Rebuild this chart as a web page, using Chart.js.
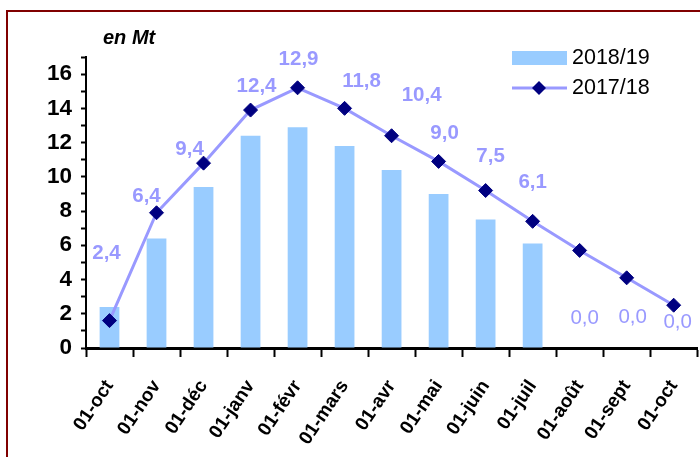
<!DOCTYPE html>
<html>
<head>
<meta charset="utf-8">
<script src="https://cdn.jsdelivr.net/npm/chart.js@4"></script>
<style>
    body { margin: 0; background: #fff; overflow: hidden; width: 700px; height: 457px; }
    #frame { position: absolute; left: 6px; top: 10px; width: 800px; height: 600px; border: 2px solid #800000; }
    #wrap { position: absolute; left: 0; top: 0; width: 712px; height: 457px; }
</style>
</head>
<body>
<div id="frame"></div>
<div id="wrap"><canvas id="stockChart"></canvas></div>
<script>
    // Months (x axis)
    const months = ['01-oct', '01-nov', '01-déc', '01-janv', '01-févr', '01-mars', '01-avr',
                    '01-mai', '01-juin', '01-juil', '01-août', '01-sept', '01-oct'];
    // 2018/19 stock, bars (en Mt)
    const stock1819 = [2.4, 6.4, 9.4, 12.4, 12.9, 11.8, 10.4, 9.0, 7.5, 6.1, 0, 0, 0];
    // 2017/18 stock, line
    const stock1718 = [1.6, 7.9, 10.8, 13.9, 15.2, 14.0, 12.4, 10.9, 9.2, 7.4, 5.7, 4.1, 2.5];
    const yMax = 17;

    const FONT = '"Liberation Sans", Arial, sans-serif';
    const fmt = v => v.toFixed(1).replace('.', ',');

    // Value labels for the bars, placed like in the original sheet
    const valueLabels = {
        id: 'valueLabels',
        afterDatasetsDraw(chart, args, opts) {
            const ctx = chart.ctx;
            const x = chart.scales.x, y = chart.scales.y;
            ctx.save();
            ctx.fillStyle = '#9999FF';
            ctx.textAlign = 'center';
            ctx.textBaseline = 'middle';
            stock1819.forEach((v, i) => {
                const off = opts.offsets[i];
                ctx.font = (v === 0 ? '' : 'bold ') + '20.5px ' + FONT;
                ctx.fillText(fmt(v), x.getPixelForValue(i) + off[0], y.getPixelForValue(v) + off[1]);
            });
            ctx.restore();
        }
    };

    // Legend and unit text
    const sheetDecor = {
        id: 'sheetDecor',
        afterDraw(chart) {
            const ctx = chart.ctx;
            const ds = chart.data.datasets;
            ctx.save();
            ctx.fillStyle = '#000';
            ctx.font = 'italic bold 20px ' + FONT;
            ctx.textBaseline = 'middle';
            ctx.fillText('en Mt', 103, 38);

            // bar entry
            ctx.fillStyle = ds[0].backgroundColor;
            ctx.fillRect(512, 51, 55, 14);
            // line entry
            ctx.strokeStyle = ds[1].borderColor;
            ctx.lineWidth = 3;
            ctx.beginPath();
            ctx.moveTo(512, 88);
            ctx.lineTo(567, 88);
            ctx.stroke();
            ctx.fillStyle = ds[1].pointBackgroundColor;
            ctx.beginPath();
            ctx.moveTo(539, 81); ctx.lineTo(546, 88); ctx.lineTo(539, 95); ctx.lineTo(532, 88);
            ctx.closePath();
            ctx.fill();

            ctx.fillStyle = '#000';
            ctx.font = '21.5px ' + FONT;
            ctx.fillText(ds[0].label, 572, 58);
            ctx.fillText(ds[1].label, 572, 88);
            ctx.restore();
        }
    };

    const ctx = document.getElementById('stockChart').getContext('2d');
    new Chart(ctx, {
        type: 'bar',
        data: {
            labels: months,
            datasets: [{
                type: 'bar',
                label: '2018/19',
                data: stock1819,
                backgroundColor: '#99CCFF',
                barPercentage: 0.42,
                categoryPercentage: 1,
                order: 2
            }, {
                type: 'line',
                label: '2017/18',
                data: stock1718,
                borderColor: '#9999FF',
                borderWidth: 3,
                tension: 0,
                pointStyle: 'rectRot',
                pointRadius: 7,
                pointBackgroundColor: '#000080',
                pointBorderColor: '#000080',
                pointBorderWidth: 1,
                order: 1
            }]
        },
        options: {
            responsive: true,
            maintainAspectRatio: false,
            animation: false,
            layout: { padding: { top: 57, right: 11, bottom: 0, left: 0 } },
            plugins: {
                legend: { display: false },
                tooltip: { enabled: false },
                valueLabels: {
                    offsets: [[-3, -54], [-10, -42], [-14, -38], [6, -49], [1, -68], [17, -65], [30, -75],
                              [6, -61], [5, -63], [0, -61], [5, -30], [6, -31], [4, -26]]
                }
            },
            scales: {
                x: {
                    offset: true,
                    grid: { offset: true, drawOnChartArea: false, drawTicks: true, tickLength: 9, tickWidth: 2, color: '#000' },
                    border: { color: '#000', width: 3 },
                    ticks: {
                        color: '#000',
                        font: { family: FONT, size: 19, weight: 'bold' },
                        minRotation: 56,
                        maxRotation: 56,
                        autoSkip: false,
                        padding: 19
                    },
                    afterFit: s => { s.height = 109; }
                },
                y: {
                    min: 0,
                    max: yMax,
                    grid: { drawOnChartArea: false, drawTicks: true, tickLength: 5, tickWidth: 2, color: '#000' },
                    border: { color: '#000', width: 2 },
                    ticks: {
                        stepSize: 1,
                        autoSkip: false,
                        color: '#000',
                        padding: 9,
                        font: { family: FONT, size: 22.5, weight: 'bold' },
                        callback: v => (v % 2 === 0 && v <= 16 ? v : '')
                    },
                    afterFit: s => { s.width = 86; }
                }
            }
        },
        plugins: [valueLabels, sheetDecor]
    });
</script>
</body>
</html>
